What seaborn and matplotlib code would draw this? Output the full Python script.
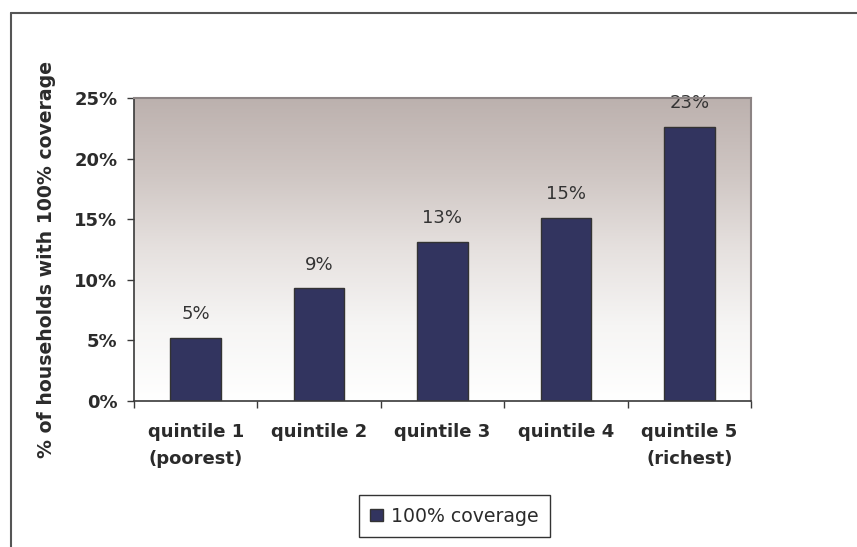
import matplotlib
matplotlib.use("Agg")
import matplotlib.pyplot as plt
from matplotlib.lines import Line2D
from matplotlib.colors import LinearSegmentedColormap
import numpy as np
import pandas as pd
import seaborn as sns

# Share of households with 100% coverage, by wealth quintile
categories = ["quintile 1\n(poorest)", "quintile 2", "quintile 3", "quintile 4", "quintile 5\n(richest)"]
coverage_pct = [5.2, 9.3, 13.1, 15.1, 22.6]
y_ticks = [0, 5, 10, 15, 20, 25]
series_name = "100% coverage"

sns.set_theme(style="white")
plt.rcParams["font.family"] = ["DejaVu Sans"]

W, H = 857, 547
fig = plt.figure(figsize=(W / 100, H / 100), dpi=100)
fig.patch.set_facecolor("white")

# plot area in pixel coordinates
left, right, top, bottom = 134, 751, 98, 401
ax = fig.add_axes([left / W, 1 - bottom / H, (right - left) / W, (bottom - top) / H])

df = pd.DataFrame({"quintile": categories, "pct": coverage_pct})
sns.barplot(data=df, x="quintile", y="pct", color="#32345f", saturation=1,
            width=0.41, edgecolor="#333333", linewidth=1.0, ax=ax, zorder=3)

# vertical gradient background: white at the base, warm grey at the top
cmap = LinearSegmentedColormap.from_list(
    "bg", ["#ffffff", "#f6f5f4", "#e6e1df", "#cfc6c3", "#bcb1ae"])
grad = np.linspace(1, 0, 256).reshape(-1, 1)
ax.imshow(grad, extent=[0, 1, 0, 1], transform=ax.transAxes, aspect="auto",
          cmap=cmap, vmin=0, vmax=1, zorder=0, interpolation="bilinear")

ax.set_xlim(-0.5, len(categories) - 0.5)
ax.set_ylim(0, 25)

# value labels above each bar
for i, v in enumerate(coverage_pct):
    ax.annotate(f"{int(v + 0.5)}%", (i, v), xytext=(0, 13.5), textcoords="offset points",
                ha="center", va="baseline", fontsize=13, color="#333333", zorder=4)

# axes styling
for s in ["left", "bottom"]:
    ax.spines[s].set_color("#3a3a3a")
    ax.spines[s].set_linewidth(1.2)
for s in ["top", "right"]:
    ax.spines[s].set_color("#8c8484")
    ax.spines[s].set_linewidth(1.5)
for s in ax.spines.values():
    s.set_zorder(5)

ax.set_yticks(y_ticks)
ax.set_yticklabels([f"{t}%" for t in y_ticks], fontsize=13, fontweight="bold", color="#2b2b2b")
ax.tick_params(axis="y", which="major", left=True, length=5, width=1, color="#3a3a3a",
               direction="out", pad=7)

ax.set_xticks(range(len(categories)))
ax.set_xticklabels(categories, fontsize=13, fontweight="bold", color="#2b2b2b",
                   linespacing=1.65)
ax.tick_params(axis="x", which="major", bottom=True, length=0, pad=16)
ax.set_xticks(np.arange(-0.5, len(categories)), minor=True)
ax.tick_params(axis="x", which="minor", bottom=True, length=5, width=1, color="#3a3a3a",
               direction="out")
ax.set_xlabel("")
ax.set_ylabel("")
ax.grid(False)

fig.text(47 / W, 1 - 260 / H, "% of households with 100% coverage", rotation=90,
         ha="center", va="center", fontsize=13.6, fontweight="bold", color="#2b2b2b")

# legend
leg = fig.legend(handles=[ax.patches[0]], labels=[series_name], loc="center",
                 bbox_to_anchor=(454.5 / W, 1 - 516 / H), bbox_transform=fig.transFigure,
                 fontsize=13.6, frameon=True, fancybox=False, framealpha=1,
                 edgecolor="#333333", handlelength=0.65, handleheight=0.65,
                 handletextpad=0.45, borderpad=0.62, borderaxespad=0)
leg.get_frame().set_linewidth(1.0)
for t in leg.get_texts():
    t.set_color("#2b2b2b")

# outer chart frame (top and left edges)
fig.add_artist(Line2D([11 / W, 1], [1 - 13 / H, 1 - 13 / H], transform=fig.transFigure,
                      color="#555555", lw=1.5))
fig.add_artist(Line2D([11 / W, 11 / W], [0, 1 - 13 / H], transform=fig.transFigure,
                      color="#555555", lw=1.5))

fig.savefig("out.png", dpi=100, facecolor="white")
